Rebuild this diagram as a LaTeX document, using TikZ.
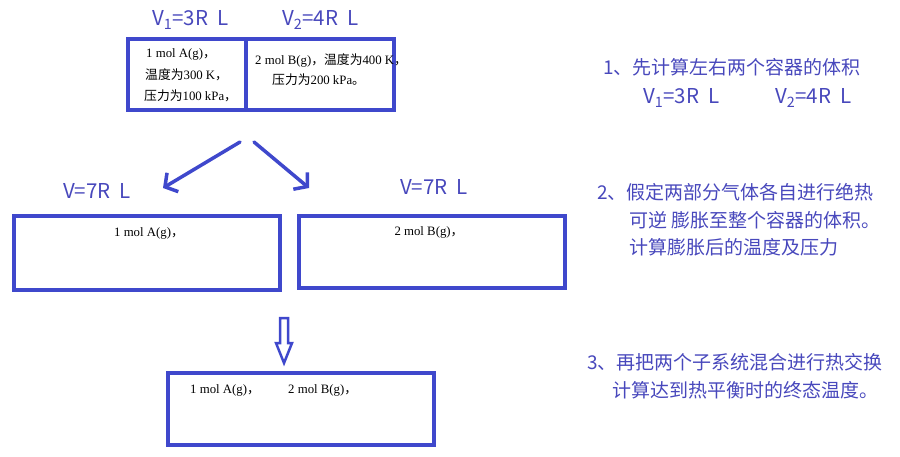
\documentclass[tikz,border=0pt]{standalone}
\usepackage{fontspec}
\setmainfont{Liberation Serif}
\newfontfamily\cjk{Noto Sans CJK SC}
\usetikzlibrary{arrows.meta}
\definecolor{boxblue}{RGB}{63,72,204}
\definecolor{noteblue}{RGB}{72,72,188}

\begin{document}
\begin{tikzpicture}[x=1pt,y={(0pt,-1pt)},
  vessel/.style={draw=boxblue,line width=3.5pt,inner sep=0pt},
  gas/.style={font=\fontsize{12.8}{14}\selectfont,anchor=west,inner sep=0pt},
  vol/.style={text=noteblue,font=\cjk\fontsize{20.5}{22}\selectfont,anchor=west,inner sep=0pt},
  note/.style={text=noteblue,font=\cjk\fontsize{19}{22}\selectfont,anchor=west,inner sep=0pt},
  split/.style={draw=boxblue,line width=3.5pt,line cap=round,-{Straight Barb[length=9pt,width=22pt]}}]
\useasboundingbox (0,0) rectangle (900,456);

\node[vessel,minimum width=118pt,minimum height=71pt] (topA) at (187,74.5) {};
\node[vessel,minimum width=148pt,minimum height=71pt] (topB) at (320,74.5) {};
\node[vol] (v1) at (152,20) {V\textsubscript{1}=3R\hspace{9pt}L};
\node[vol] (v2) at (282,20) {V\textsubscript{2}=4R\hspace{9pt}L};
\node[gas] (a1) at (146,54) {1 mol A(g){\cjk ，}};
\node[gas] (a2) at (145,75) {{\cjk 温度为}300 K{\cjk ，}};
\node[gas] (a3) at (144,96) {{\cjk 压力为}100 kPa{\cjk ，}};
\node[gas] (b1) at (255,60) {2 mol B(g){\cjk ，温度为}400 K{\cjk ，}};
\node[gas] (b2) at (272,80) {{\cjk 压力为}200 kPa{\cjk 。}};

\coordinate (forkL) at (240,142);
\coordinate (tipL) at (163,188);
\coordinate (forkR) at (254,142);
\coordinate (tipR) at (309,188);
\draw[split] (forkL) -- (tipL);
\draw[split] (forkR) -- (tipR);

\node[vol] (vA) at (63,191) {V=7R\hspace{9pt}L};
\node[vol] (vB) at (400,187) {V=7R\hspace{9pt}L};
\node[vessel,minimum width=266pt,minimum height=74pt] (boxA) at (147,253) {};
\node[vessel,minimum width=266pt,minimum height=72pt] (boxB) at (432,252) {};
\node[gas,anchor=center] (gA) at (149,233) {1 mol A(g){\cjk ，}};
\node[gas,anchor=center] (gB) at (429,232) {2 mol B(g){\cjk ，}};

\draw[boxblue,line width=2.5pt,line join=miter,fill=white]
  (280,318) -- (288,318) -- (288,343) -- (292,343) -- (284,363) -- (276,343) -- (280,343) -- cycle;

\node[vessel,minimum width=266pt,minimum height=72pt] (mix) at (301,409) {};
\node[gas] (mA) at (190,390) {1 mol A(g){\cjk ，}};
\node[gas] (mB) at (288,390) {2 mol B(g){\cjk ，}};

\node[note] (s1) at (603,67) {1、先计算左右两个容器的体积};
\node[vol] (s1a) at (643,98) {V\textsubscript{1}=3R\hspace{9pt}L};
\node[vol] (s1b) at (775,98) {V\textsubscript{2}=4R\hspace{9pt}L};
\node[note] (s2) at (597,192) {2、假定两部分气体各自进行绝热};
\node[note] (s2a) at (629,220) {可逆 膨胀至整个容器的体积。};
\node[note] (s2b) at (629,247) {计算膨胀后的温度及压力};
\node[note] (s3) at (587,362) {3、再把两个子系统混合进行热交换};
\node[note] (s3a) at (612,390) {计算达到热平衡时的终态温度。};
\end{tikzpicture}
\end{document}
